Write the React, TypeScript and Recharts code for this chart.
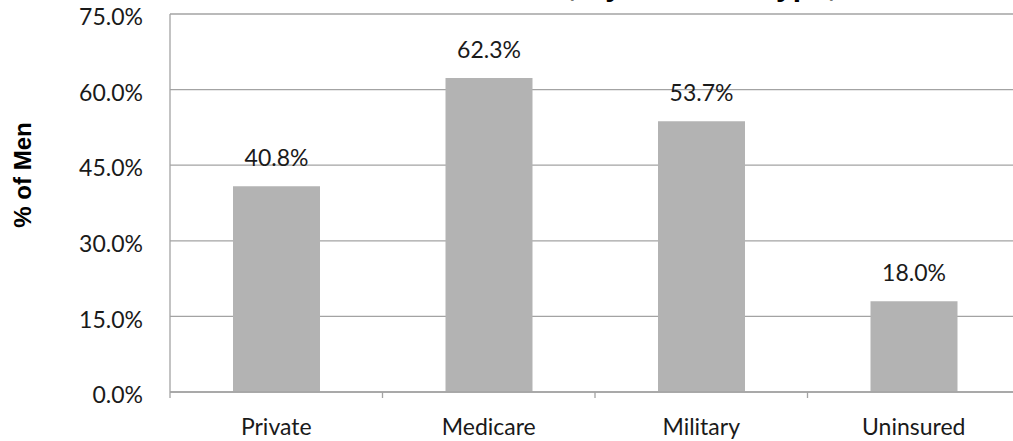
import React from 'react';
import { BarChart, Bar, XAxis, YAxis, CartesianGrid, LabelList } from 'recharts';

const categories = ['Private', 'Medicare', 'Military', 'Uninsured'];
const percentMen = [40.8, 62.3, 53.7, 18.0];
const yTicks = [0, 15, 30, 45, 60, 75];
const titleParts = ['Men Who Had a PSA Test,', 'by', 'Insurance', 'Type, 2010'];
const yAxisTitle = '% of Men';

const data = categories.map((c, i) => ({ name: c, value: percentMen[i] }));

const FONT = 'Lato, "Open Sans", sans-serif';
const GRID = '#a3a3a3';

const titleStyle: React.CSSProperties = {
  position: 'absolute', top: -29, whiteSpace: 'nowrap',
  fontFamily: '"Liberation Sans", Arial, sans-serif', fontWeight: 'bold', fontSize: 30, lineHeight: '30px', color: '#000',
};

const XTick = (props: any) => {
  const { x, y, payload, width, visibleTicksCount } = props;
  const half = payload && typeof payload.offset === 'number' && payload.offset > 0
    ? payload.offset
    : width / (visibleTicksCount || 4) / 2;
  return (
    <g>
      <line x1={x - half} x2={x - half} y1={y} y2={y + 6} stroke={GRID} strokeWidth={1.3} />
      <text x={x} y={y + 43} textAnchor="middle" fill="#1a1a1a" fontFamily={FONT} fontSize={23}>
        {payload.value}
      </text>
    </g>
  );
};

const YTitle = (props: any) => {
  const vb = props.viewBox || {};
  const cx = (vb.x || 0) + 22;
  const cy = (vb.y || 0) + (vb.height || 0) / 2 - 28;
  return (
    <text x={cx} y={cy} transform={`rotate(-90 ${cx} ${cy})`} textAnchor="middle" dominantBaseline="central"
      fontFamily='"Liberation Sans", Arial, sans-serif' fontWeight="bold" fontSize={24} fill="#000">
      {yAxisTitle}
    </text>
  );
};

export default function App() {
  return (
    <div style={{ position: 'absolute', left: 0, top: 0, width: 1013, height: 441, overflow: 'hidden', background: '#fff' }}>
      <div style={{ ...titleStyle, left: 0, width: 577, textAlign: 'right' }}>{titleParts[0]}</div>
      <div style={{ ...titleStyle, left: 587 }}>{titleParts[1]}</div>
      <div style={{ ...titleStyle, left: 630, letterSpacing: -2 }}>{titleParts[2]}</div>
      <div style={{ ...titleStyle, left: 760 }}>{titleParts[3]}</div>
      <BarChart width={1030} height={441} data={data} margin={{ top: 14, right: 10, left: 0, bottom: 0 }}>
        <CartesianGrid vertical={false} stroke={GRID} strokeWidth={1.3} />
        <XAxis dataKey="name" height={49} axisLine={{ stroke: GRID, strokeWidth: 1.3 }} tickLine={false}
          tickSize={0} tickMargin={0} tick={<XTick />} interval={0} />
        <YAxis domain={[0, 75]} ticks={yTicks} width={170} axisLine={{ stroke: GRID, strokeWidth: 1.3 }}
          tickLine={false} tickSize={0} tickMargin={27} interval={0}
          tickFormatter={(v: number) => v.toFixed(1) + '%'}
          tick={{ fill: '#1a1a1a', fontFamily: FONT, fontSize: 23, dy: 3 }}
          label={<YTitle />} />
        <Bar dataKey="value" fill="#b3b3b3" barSize={87} isAnimationActive={false}>
          <LabelList dataKey="value" position="top" offset={20}
            formatter={(v: any) => Number(v).toFixed(1) + '%'}
            style={{ fill: '#1a1a1a', fontFamily: FONT, fontSize: 23 }} />
        </Bar>
      </BarChart>
    </div>
  );
}
